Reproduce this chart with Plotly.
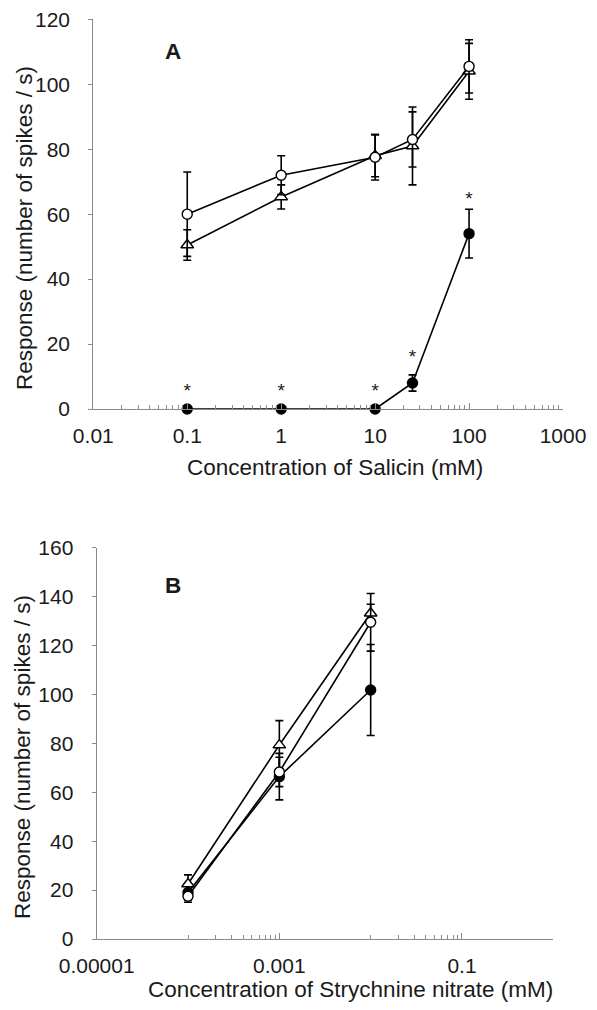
import plotly.graph_objects as go

# ---------------- data ----------------
# Panel A: Salicin
salicin_conc = [0.1, 1, 10, 25, 100]
a_open = [60, 72, 77.5, 83, 105.5]
a_open_err = [13, 6, 7, 8.5, 8.2]
a_tri = [50.5, 65.3, 78, 81, 104]
a_tri_err = [4.7, 3.7, 6.5, 12, 8.6]
a_filled = [0, 0, 0, 8, 54]
a_filled_err = [0, 0, 0, 2.5, 7.5]
a_star_x = [0.1, 1, 10, 25, 100]
a_star_y = [5.3, 5.3, 5.3, 15.5, 64.4]

# Panel B: Strychnine nitrate
strych_conc = [0.0001, 0.001, 0.01]
b_open = [17.5, 68.3, 129.5]
b_open_err = [2.5, 6, 11.8]
b_tri = [22.5, 79.3, 133.2]
b_tri_err = [3.7, 10, 3.7]
b_filled = [19, 66.4, 101.8]
b_filled_err = [3, 9.5, 18.6]

a_xticks = [0.01, 0.1, 1, 10, 100, 1000]
a_xlabels = ["0.01", "0.1", "1", "10", "100", "1000"]
b_xticks = [0.00001, 0.001, 0.1]
b_xlabels = ["0.00001", "0.001", "0.1"]

# ---------------- layout helpers ----------------
OFF = 8                      # default page margin around the plot div
W, H = 597 - OFF, 1010 - 2 * OFF
FONT = "Arial, Liberation Sans, sans-serif"
TXT = "#1a1a1a"
AX = "#8a8a8a"

def px(x):
    return (x - OFF) / W

def py(y):
    return 1 - (y - OFF) / H

fig = go.Figure()

def add_series(x, y, err, symbol, fill, xa, ya, name):
    fig.add_trace(go.Scatter(
        x=x, y=y, mode="lines+markers", name=name,
        xaxis=xa, yaxis=ya, cliponaxis=False,
        line=dict(color="black", width=1.6),
        marker=dict(symbol=symbol, size=10 if "circle" in symbol else 11,
                    color=fill, line=dict(color="black", width=1.4)),
        error_y=dict(type="data", array=err, visible=True,
                     color="black", thickness=1.6, width=4),
    ))

# Panel A
add_series(salicin_conc, a_filled, a_filled_err, "circle", "black", "x", "y", "filled")
add_series(salicin_conc, a_tri, a_tri_err, "triangle-up", "white", "x", "y", "triangle")
add_series(salicin_conc, a_open, a_open_err, "circle", "white", "x", "y", "open")
fig.add_trace(go.Scatter(
    x=a_star_x, y=a_star_y, mode="text", text=["*"] * len(a_star_x),
    textfont=dict(family=FONT, size=19, color=TXT),
    xaxis="x", yaxis="y", cliponaxis=False, showlegend=False))

# Panel B
add_series(strych_conc, b_filled, b_filled_err, "circle", "black", "x2", "y2", "filled")
add_series(strych_conc, b_tri, b_tri_err, "triangle-up", "white", "x2", "y2", "triangle")
add_series(strych_conc, b_open, b_open_err, "circle", "white", "x2", "y2", "open")

tickfont = dict(family=FONT, size=21, color=TXT)

a_minor = [m * 10 ** e for e in range(-2, 3) for m in range(2, 10)]
b_minor = ([m * 1e-4 for m in range(1, 10)] + [m * 1e-2 for m in range(1, 10)] + [1])

common = dict(showgrid=False, zeroline=False, tickfont=tickfont, automargin=False,
              ticklabeloverflow="allow",
              showline=True, linecolor=AX, linewidth=1.2, tickcolor=AX, tickwidth=1)

fig.update_layout(
    template="none",
    width=W, height=H, margin=dict(l=0, r=0, t=0, b=0, pad=0),
    paper_bgcolor="white", plot_bgcolor="white", showlegend=False,
    xaxis=dict(type="log", range=[-2, 3], domain=[px(93.3), px(563)], anchor="y",
               tickmode="array", tickvals=a_xticks, ticktext=a_xlabels,
               ticks="inside", ticklen=6,
               minor=dict(tickmode="array", tickvals=a_minor, ticks="inside",
                          ticklen=4, tickcolor=AX, tickwidth=1),
               ticklabelstandoff=8, **common),
    yaxis=dict(range=[0, 120], domain=[py(409), py(19.3)], anchor="x",
               tickmode="linear", tick0=0, dtick=20,
               ticks="outside", ticklen=4, ticklabelstandoff=14, **common),
    xaxis2=dict(type="log", range=[-5, 0], domain=[px(96.7), px(553.3)], anchor="y2",
                tickmode="array", tickvals=b_xticks, ticktext=b_xlabels,
                ticks="inside", ticklen=6,
                minor=dict(tickmode="array", tickvals=b_minor, ticks="inside",
                           ticklen=4, tickcolor=AX, tickwidth=1),
                ticklabelstandoff=8, **common),
    yaxis2=dict(range=[0, 160], domain=[py(939), py(547.7)], anchor="x2",
                tickmode="linear", tick0=0, dtick=20,
                ticks="outside", ticklen=4, ticklabelstandoff=14, **common),
)

titlefont = dict(family=FONT, size=22.5, color=TXT)
ann = [
    dict(text="Concentration of Salicin (mM)", x=px(335), y=py(467)),
    dict(text="Concentration of Strychnine nitrate (mM)", x=px(350), y=py(989)),
    dict(text="Response (number of spikes / s)", x=px(24), y=py(228), textangle=-90),
    dict(text="Response (number of spikes / s)", x=px(22), y=py(757), textangle=-90),
    dict(text="<b>A</b>", x=px(173), y=py(52)),
    dict(text="<b>B</b>", x=px(173), y=py(585)),
]
for a in ann:
    fig.add_annotation(xref="paper", yref="paper", xanchor="center", yanchor="middle",
                       showarrow=False, font=titlefont, **a)

fig.write_html("out.html")
